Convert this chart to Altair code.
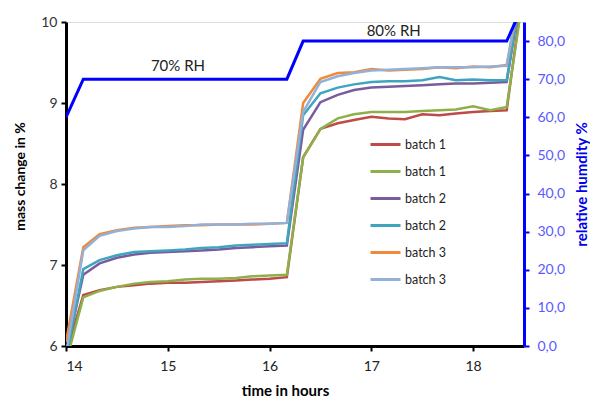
import altair as alt
import pandas as pd

time_h = [14.0, 14.17, 14.33, 14.5, 14.67, 14.83, 15.0, 15.17, 15.33, 15.5, 15.67, 15.83,
          16.0, 16.17, 16.33, 16.5, 16.67, 16.83, 17.0, 17.17, 17.33, 17.5, 17.67, 17.83,
          18.0, 18.17, 18.33, 18.5]

batch1_a = [5.9, 6.63, 6.69, 6.73, 6.75, 6.77, 6.78, 6.78, 6.79, 6.80, 6.81, 6.82, 6.83, 6.85,
            8.33, 8.68, 8.75, 8.79, 8.83, 8.81, 8.80, 8.86, 8.85, 8.87, 8.89, 8.90, 8.91, 10.5]
batch1_b = [5.8, 6.60, 6.68, 6.73, 6.77, 6.79, 6.80, 6.82, 6.83, 6.83, 6.84, 6.86, 6.87, 6.88,
            8.33, 8.68, 8.81, 8.86, 8.89, 8.89, 8.89, 8.90, 8.91, 8.92, 8.96, 8.91, 8.95, 10.4]
batch2_a = [5.9, 6.88, 7.02, 7.09, 7.13, 7.15, 7.16, 7.17, 7.18, 7.19, 7.21, 7.22, 7.23, 7.24,
            8.67, 9.01, 9.10, 9.16, 9.19, 9.20, 9.21, 9.22, 9.23, 9.24, 9.24, 9.25, 9.26, 10.6]
batch2_b = [5.85, 6.95, 7.06, 7.12, 7.16, 7.17, 7.18, 7.19, 7.21, 7.22, 7.24, 7.25, 7.26, 7.27,
            8.85, 9.12, 9.19, 9.23, 9.26, 9.27, 9.27, 9.28, 9.32, 9.28, 9.29, 9.28, 9.28, 10.6]
batch3_a = [6.05, 7.22, 7.38, 7.43, 7.46, 7.47, 7.48, 7.49, 7.49, 7.50, 7.50, 7.50, 7.51, 7.52,
            9.0, 9.30, 9.37, 9.38, 9.42, 9.40, 9.41, 9.42, 9.44, 9.43, 9.45, 9.44, 9.47, 10.6]
batch3_b = [5.9, 7.18, 7.36, 7.42, 7.45, 7.47, 7.47, 7.48, 7.50, 7.50, 7.50, 7.51, 7.51, 7.52,
            8.89, 9.26, 9.33, 9.37, 9.40, 9.41, 9.42, 9.43, 9.44, 9.44, 9.44, 9.45, 9.46, 10.7]

rel_humidity = [60, 70, 70, 70, 70, 70, 70, 70, 70, 70, 70, 70, 70, 70,
                80, 80, 80, 80, 80, 80, 80, 80, 80, 80, 80, 80, 80, 90]

series_keys = ["batch 1a", "batch 1b", "batch 2a", "batch 2b", "batch 3a", "batch 3b"]
series_vals = [batch1_a, batch1_b, batch2_a, batch2_b, batch3_a, batch3_b]
series_colors = ["#BE4B48", "#8DB04A", "#7A5C9E", "#3FA5BE", "#EF8A3C", "#93B1D8"]

rh_labels = ["70% RH", "80% RH"]
rh_label_time = [15.1, 17.22]
rh_label_value = [73.5, 82.6]

rows = []
for key, vals in zip(series_keys, series_vals):
    for t, v in zip(time_h, vals):
        rows.append({"series": key, "time": t, "mass": v})
mass_df = pd.DataFrame(rows)
rh_df = pd.DataFrame({"time": time_h, "rh": rel_humidity})
lab_df = pd.DataFrame({"time": rh_label_time, "rh": rh_label_value, "label": rh_labels})

FONT = "Lato"

x_enc = alt.X("time:Q", scale=alt.Scale(domain=[14, 18.5], nice=False, zero=False),
              axis=alt.Axis(values=[14, 15, 16, 17, 18], format="d", title="time in hours",
                            grid=False, domainColor="black", domainWidth=3, tickColor="black",
                            tickWidth=2, tickSize=5, labelFontSize=14, labelColor="#222222",
                            labelPadding=8, titleFontSize=15, titleFontWeight="bold",
                            titleColor="black", titlePadding=10, titleX=219,
                            labelFont=FONT, titleFont=FONT))

mass = alt.Chart(mass_df).mark_line(clip=True, strokeWidth=2.5).encode(
    x=x_enc,
    y=alt.Y("mass:Q", scale=alt.Scale(domain=[6, 10], nice=False, zero=False),
            axis=alt.Axis(values=[6, 7, 8, 9, 10], title="mass change in %", grid=False,
                          domainColor="black", domainWidth=3, tickColor="black", tickWidth=2,
                          tickSize=5, labelFontSize=14, labelColor="#333333", labelPadding=4,
                          titleFontSize=14, titleFontWeight="bold", titleColor="black",
                          titleAngle=270, titleX=-46, titleY=154, titleAlign="center",
                          titleBaseline="middle", labelFont=FONT, titleFont=FONT)),
    color=alt.Color("series:N", scale=alt.Scale(domain=series_keys, range=series_colors),
                    legend=alt.Legend(title=None, orient="none", legendX=303, legendY=106,
                                      symbolType="stroke", symbolSize=900, symbolStrokeWidth=3,
                                      labelFontSize=12.5, labelFont=FONT, labelColor="#222222",
                                      labelExpr="slice(datum.label, 0, 7)", rowPadding=4,
                                      labelOffset=3)),
    order="time:Q",
)

rh_line = alt.Chart(rh_df).mark_line(clip=True, color="#0000FF", strokeWidth=3).encode(
    x=alt.X("time:Q"),
    y=alt.Y("rh:Q", scale=alt.Scale(domain=[0, 85], nice=False, zero=False),
            axis=alt.Axis(orient="right", values=[0, 10, 20, 30, 40, 50, 60, 70, 80],
                          labelExpr="replace(format(datum.value, '.1f'), '.', ',')",
                          title="relative humdity  %", titleAngle=270, titlePadding=25,
                          grid=False,
                          domainColor="#0000FF", domainWidth=3, tickColor="#0000FF",
                          tickWidth=2, tickSize=5, labelFontSize=14, labelColor="#5A5AFF",
                          labelPadding=8, titleFontSize=15, titleFontWeight="bold",
                          titleColor="#0000EE", labelFont=FONT, titleFont=FONT)),
)

rh_text = alt.Chart(lab_df).mark_text(fontSize=15, font=FONT, color="#222222").encode(
    x=alt.X("time:Q"),
    y=alt.Y("rh:Q"),
    text="label:N",
)

rh_layer = alt.layer(rh_line, rh_text)

chart = alt.layer(mass, rh_layer).resolve_scale(y="independent").properties(
    width=458, height=324,
    autosize=alt.AutoSizeParams(type="none"),
    padding={"left": 58, "top": 14, "right": 66, "bottom": 56},
).configure_view(stroke=None).configure(background="white")

chart.save("out.html", embed_options={"renderer": "svg", "actions": False})
